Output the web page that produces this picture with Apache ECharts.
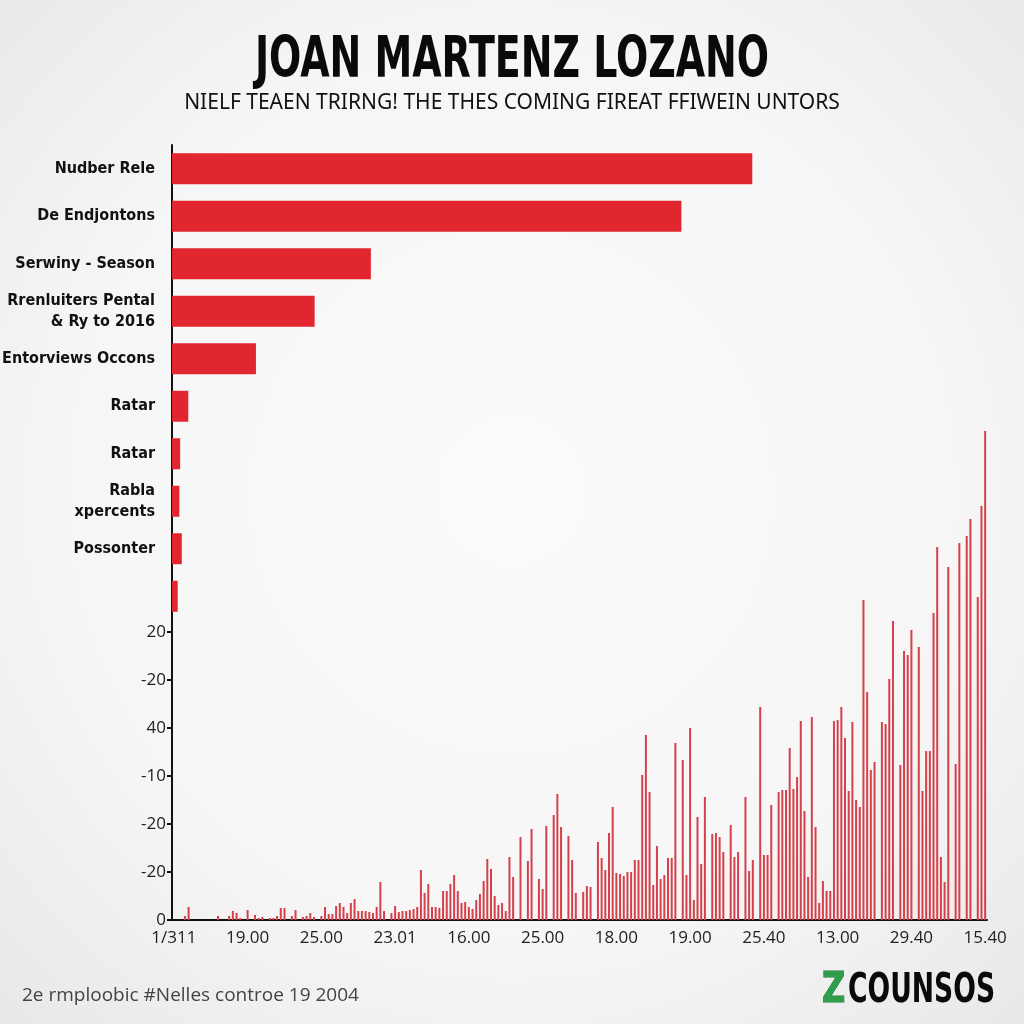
<!DOCTYPE html>
<html>
<head>
<meta charset="utf-8">
<script src="https://cdn.jsdelivr.net/npm/echarts@6/dist/echarts.min.js"></script>
<style>
  html, body { margin: 0; padding: 0; }
  #main { width: 1024px; height: 1024px; }
</style>
</head>
<body>
<div id="main"></div>
<script>
// top horizontal bars
var categories = ['Nudber Rele', 'De Endjontons', 'Serwiny - Season', 'Rrenluiters Pental\n& Ry to 2016',
  'Entorviews Occons', 'Ratar', 'Ratar', 'Rabla\nxpercents', 'Possonter', ''];
var topValues = [71.2, 62.5, 24.4, 17.5, 10.3, 2.0, 1.0, 0.9, 1.2, 0.7];

// bottom spikes (one per slot, 0 = no line)
var spikeValues = [
  0, 0, 0, 4, 13, 0, 0, 0, 0, 0, 0, 0, 4, 0, 0, 4, 9, 7, 2, 0,
  10, 0, 5, 2, 3, 0, 2, 2, 4, 12, 12, 0, 4, 10, 0, 3, 4, 7, 3, 0,
  4, 13, 6, 6, 14, 17, 13, 7, 17, 21, 9, 9, 9, 8, 7, 13, 38, 9, 0, 7,
  14, 8, 9, 9, 10, 11, 13, 50, 27, 36, 13, 13, 12, 29, 29, 36, 45, 29, 17, 18,
  13, 11, 20, 26, 39, 61, 51, 24, 15, 17, 9, 63, 43, 0, 83, 0, 59, 91, 0, 41,
  31, 94, 0, 105, 126, 93, 0, 84, 60, 27, 0, 28, 34, 33, 0, 78, 62, 50, 87, 113,
  47, 46, 44, 48, 48, 60, 60, 145, 185, 128, 35, 74, 41, 45, 62, 62, 177, 0, 160, 45,
  192, 20, 103, 56, 123, 0, 86, 87, 83, 68, 0, 95, 63, 68, 0, 123, 49, 60, 0, 213,
  65, 65, 115, 0, 128, 130, 130, 172, 131, 143, 199, 109, 43, 203, 93, 17, 39, 29, 29, 199,
  200, 213, 182, 129, 198, 120, 113, 320, 228, 150, 158, 0, 198, 196, 241, 299, 0, 155, 269, 265,
  290, 0, 273, 129, 169, 169, 307, 373, 63, 38, 353, 0, 156, 377, 0, 384, 401, 0, 323, 414,
  489
];
var xTickLabels = ['1/311', '19.00', '25.00', '23.01', '16.00', '25.00', '18.00', '19.00', '25.40', '13.00', '29.40', '15.40'];
var yTickLabels = ['0', '-20', '-20', '-10', '40', '-20', '20'];
var yTickValues = [0, 48, 96, 144, 192, 240, 288];

var slots = [];
for (var i = 0; i < spikeValues.length; i++) {
  slots.push(i % 20 === 0 && xTickLabels[i / 20] !== undefined ? xTickLabels[i / 20] : '');
}

var condensed = '"DejaVu Sans Condensed", "Liberation Sans Narrow", sans-serif';

var myChart = echarts.init(document.getElementById('main'));

myChart.setOption({
  backgroundColor: {
    type: 'radial', x: 0.5, y: 0.48, r: 0.72,
    colorStops: [
      { offset: 0, color: '#fbfbfb' },
      { offset: 0.6, color: '#f6f6f6' },
      { offset: 1, color: '#e8e8e8' }
    ]
  },
  animation: false,
  grid: [
    { left: 172, right: 37, top: 145, height: 475, outerBoundsMode: 'none', containLabel: false },
    { left: 172, right: 37, top: 416, bottom: 104, outerBoundsMode: 'none', containLabel: false }
  ],
  xAxis: [{
    gridIndex: 0,
    type: 'value',
    min: 0,
    max: 100,
    show: false
  }, {
    gridIndex: 1,
    type: 'category',
    data: slots,
    axisLine: { lineStyle: { color: '#111', width: 2 } },
    axisTick: { interval: 19, alignWithLabel: true, length: 6, lineStyle: { color: '#111', width: 2 } },
    axisLabel: {
      interval: 19,
      margin: 10,
      fontFamily: 'Open Sans, sans-serif',
      fontSize: 17,
      color: '#222'
    },
    splitLine: { show: false }
  }],
  yAxis: [{
    gridIndex: 0,
    type: 'category',
    inverse: true,
    data: categories,
    axisLine: { lineStyle: { color: '#111', width: 2 } },
    axisTick: { show: false },
    axisLabel: {
      margin: 17,
      fontFamily: condensed,
      fontWeight: 'bold',
      fontSize: 16,
      lineHeight: 21,
      color: '#111'
    }
  }, {
    gridIndex: 1,
    type: 'value',
    min: 0,
    max: 504,
    interval: 48,
    axisLine: { show: true, lineStyle: { color: '#111', width: 2 } },
    axisTick: { show: true, customValues: yTickValues, length: 5, lineStyle: { color: '#111', width: 2 } },
    axisLabel: {
      customValues: yTickValues,
      margin: 6,
      fontFamily: 'Open Sans, sans-serif',
      fontSize: 17,
      color: '#222',
      formatter: function (v) {
        var k = Math.round(v / 48);
        return k < yTickLabels.length ? yTickLabels[k] : '';
      }
    },
    splitLine: { show: false }
  }],
  series: [{
    type: 'bar',
    xAxisIndex: 0,
    yAxisIndex: 0,
    data: topValues,
    barWidth: 31,
    itemStyle: { color: '#e2262f' }
  }, {
    type: 'bar',
    xAxisIndex: 1,
    yAxisIndex: 1,
    data: spikeValues,
    barWidth: 2,
    itemStyle: { color: '#d5404a' }
  }],
  graphic: [{
    type: 'text',
    x: 512,
    y: 34,
    scaleX: 0.74,
    style: {
      text: 'JOAN MARTENZ LOZANO',
      textAlign: 'center',
      font: 'bold 57px ' + condensed,
      fill: '#0a0a0a'
    }
  }, {
    type: 'text',
    x: 512,
    y: 93,
    style: {
      text: 'NIELF TEAEN TRIRNG! THE THES COMING FIREAT FFIWEIN UNTORS',
      textAlign: 'center',
      font: '21px "Noto Sans", sans-serif',
      fill: '#111'
    }
  }, {
    type: 'text',
    left: 22,
    top: 986,
    style: {
      text: '2e rmploobic #Nelles controe 19 2004',
      font: '19px "Open Sans", sans-serif',
      fill: '#444'
    }
  }, {
    type: 'text',
    x: 822,
    y: 970,
    scaleX: 0.85,
    style: {
      text: 'Z',
      font: 'bold 42px ' + condensed,
      fill: '#2e9e4a',
      stroke: '#1f7a36',
      lineWidth: 1
    }
  }, {
    type: 'text',
    x: 848,
    y: 972,
    scaleX: 0.74,
    style: {
      text: 'COUNSOS',
      font: 'bold 40px ' + condensed,
      fill: '#0a0a0a'
    }
  }]
});
</script>
</body>
</html>
